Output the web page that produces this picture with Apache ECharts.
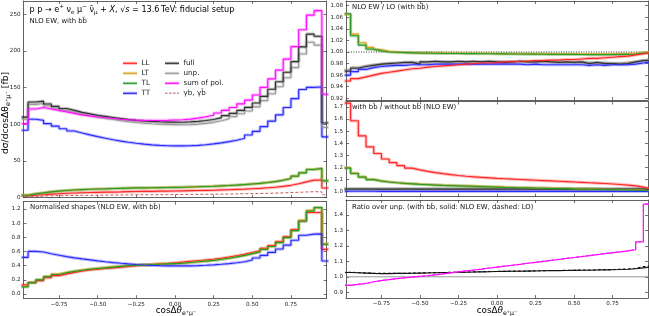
<!DOCTYPE html>
<html><head><meta charset="utf-8">
<script src="https://cdn.jsdelivr.net/npm/echarts@6/dist/echarts.min.js"></script>
<style>html,body{margin:0;padding:0;background:#fff}#c{width:649px;height:316px}</style>
</head><body><div id="c"></div>
<script>
// ---------- data ----------
const binEdges = [-1.0,-0.95,-0.9,-0.85,-0.8,-0.75,-0.7,-0.65,-0.6,-0.55,
  -0.5,-0.45,-0.4,-0.35,-0.3,-0.25,-0.2,-0.15,-0.1,-0.05,
  0.0,0.05,0.1,0.15,0.2,0.25,0.3,0.35,0.4,0.45,
  0.5,0.55,0.6,0.65,0.7,0.75,0.8,0.85,0.9,0.95,1.0];
const xTicks = [-0.75,-0.5,-0.25,0,0.25,0.5,0.75];

// top-left: dsigma/dcos [fb]
const sumPol = [101,121,123,121,119,117,115,113,111.5,110,
  109,108,107,106.3,105.8,105.5,105.3,105.3,105.5,105.9,
  106.3,107.2,108.5,110.3,112.5,115.5,119,123,128,133,
  140,150.5,162,174,189,206,229,249,255,141];
const unpAbs = [106.9,127.2,128.5,125,121.9,119.1,116.4,113.8,111.7,109.7,
  108.2,106.6,105,103.6,102.5,101.6,100.9,100.3,99.8,99.6,
  99.4,99.7,100.4,101.4,102.8,105,107.6,110.6,114.4,118.2,
  123.8,132.4,141.7,151.3,163.5,177.3,196,212,208,95.9];
const fullAbs = [109.9,130.5,131.6,127.8,124.5,121.6,119,116.3,114.3,112.3,
  110.9,109.4,107.8,106.5,105.5,104.6,104,103.5,103.1,103,
  102.9,103.3,104,105.2,106.7,109.1,111.9,115,119.1,123.2,
  129.1,138.1,147.9,158.1,171,185.6,205.6,223,220.1,101.9];
const ttAbs = [92,107,105.5,101,97.5,94,91,88.3,85.7,83.2,
  81,79,77.2,75.6,74.2,73,72,71.3,70.8,70.6,
  70.6,70.9,71.4,72.2,73.3,74.7,76.4,78.4,81,85.5,
  90.5,97,104.5,113,123,135,147.5,150.5,151,83];
const llAbs = [2.7,3.3,4.0,4.8,5.4,6.0,6.4,6.8,7.1,7.3,
  7.5,7.7,7.9,8.2,8.4,8.6,8.7,8.9,9.0,9.2,
  9.4,9.6,9.8,10.0,10.2,10.6,10.9,11.3,11.7,12.2,
  12.7,13.5,14.3,15.5,16.9,19.0,21.5,24.0,24.0,13.2];
const tlAbs = [3.3,5.2,6.6,8.0,9.0,9.8,10.5,11.0,11.5,11.8,
  12.1,12.5,12.8,13.1,13.3,13.4,13.6,13.8,13.9,14.1,
  14.3,14.6,14.9,15.3,15.6,16.1,16.6,17.2,17.9,18.7,
  19.5,20.7,22.0,23.8,26.1,29.4,33.8,38.4,40.0,23.0];
const ltAbs = [3.6,5.4,6.7,8.2,9.2,10.0,10.6,11.1,11.5,11.9,
  12.2,12.5,12.9,13.2,13.4,13.5,13.7,13.8,14.0,14.2,
  14.3,14.7,15.0,15.3,15.7,16.1,16.7,17.3,18.0,18.8,
  19.6,20.8,22.1,24.0,26.2,29.5,34.1,38.7,40.0,23.3];
const gbAbs = [1.5,2.0,2.3,2.6,2.8,3.0,3.1,3.2,3.3,3.4,
  3.5,3.6,3.7,3.8,3.9,4.0,4.0,4.1,4.2,4.3,
  4.4,4.5,4.6,4.7,4.8,4.9,5.0,5.2,5.4,5.6,
  5.8,6.0,6.3,6.6,7.0,7.4,7.8,8.2,8.0,4.0];

// bottom-left: normalised shapes
const llNorm = [0.13,0.16,0.19,0.23,0.26,0.285,0.305,0.325,0.34,0.35,
  0.36,0.37,0.38,0.39,0.40,0.41,0.415,0.425,0.43,0.44,
  0.45,0.46,0.47,0.48,0.49,0.505,0.52,0.54,0.56,0.585,
  0.61,0.645,0.685,0.74,0.81,0.91,1.03,1.15,1.15,0.63];
const tlNorm = [0.10,0.16,0.20,0.245,0.275,0.30,0.32,0.335,0.35,0.36,
  0.37,0.38,0.39,0.40,0.405,0.41,0.415,0.42,0.425,0.43,
  0.435,0.445,0.455,0.465,0.475,0.49,0.505,0.525,0.545,0.57,
  0.595,0.63,0.67,0.725,0.795,0.895,1.03,1.17,1.22,0.70];
const ltNorm = [0.11,0.165,0.205,0.25,0.28,0.305,0.322,0.338,0.352,0.362,
  0.372,0.382,0.392,0.401,0.407,0.412,0.417,0.422,0.427,0.432,
  0.437,0.447,0.457,0.467,0.478,0.492,0.508,0.528,0.548,0.573,
  0.598,0.634,0.674,0.73,0.8,0.9,1.04,1.18,1.22,0.71];
const ttNorm = [0.517,0.601,0.593,0.568,0.548,0.528,0.511,0.496,0.482,0.468,
  0.455,0.444,0.434,0.425,0.417,0.410,0.405,0.401,0.398,0.397,
  0.397,0.398,0.401,0.406,0.412,0.420,0.429,0.441,0.455,0.48,
  0.509,0.545,0.587,0.635,0.691,0.759,0.829,0.846,0.849,0.466];

// top-right: NLO EW / LO
const llNloLo = [0.950,0.954,0.957,0.960,0.963,0.965,0.967,0.969,0.971,0.972,
  0.974,0.975,0.976,0.977,0.978,0.979,0.980,0.981,0.981,0.982,
  0.983,0.983,0.984,0.984,0.985,0.985,0.986,0.986,0.987,0.987,
  0.988,0.989,0.989,0.990,0.991,0.992,0.993,0.995,0.997,0.999];
const tlNloLo = [1.066,1.028,1.012,1.005,1.002,1.000,0.9995,0.999,0.9985,0.998,
  0.998,0.9978,0.9976,0.9975,0.9974,0.9973,0.9972,0.997,0.997,0.9968,
  0.9967,0.9966,0.9965,0.9964,0.9963,0.9962,0.996,0.996,0.9958,0.9958,
  0.9957,0.9956,0.9955,0.9955,0.9955,0.9958,0.996,0.9965,0.998,0.999];
const ltNloLo = [1.065,1.031,1.016,1.008,1.004,1.001,1.0,0.9995,0.999,0.9988,
  0.9986,0.9984,0.9982,0.998,0.9979,0.9978,0.9977,0.9976,0.9975,0.9974,
  0.9973,0.9972,0.9971,0.997,0.9969,0.9968,0.9967,0.9966,0.9965,0.9965,
  0.9964,0.9964,0.9964,0.9965,0.9966,0.9968,0.997,0.9975,0.999,1.0];
const ttNloLo = [0.960,0.966,0.970,0.973,0.975,0.976,0.977,0.977,0.978,0.978,
  0.978,0.979,0.979,0.979,0.979,0.979,0.979,0.979,0.979,0.979,
  0.979,0.979,0.979,0.978,0.979,0.978,0.978,0.978,0.978,0.978,
  0.978,0.977,0.978,0.977,0.978,0.978,0.978,0.979,0.981,0.983];
const fullNloLo = [0.967,0.972,0.975,0.977,0.979,0.980,0.981,0.982,0.982,0.979,
  0.983,0.984,0.983,0.983,0.984,0.983,0.984,0.983,0.984,0.983,
  0.982,0.983,0.984,0.983,0.983,0.984,0.983,0.982,0.983,0.982,
  0.983,0.980,0.982,0.980,0.980,0.979,0.980,0.983,0.985,0.986];
const unpNloLo = [0.969,0.973,0.976,0.978,0.979,0.981,0.980,0.981,0.982,0.982,
  0.981,0.982,0.983,0.982,0.982,0.983,0.982,0.983,0.983,0.982,
  0.983,0.983,0.982,0.983,0.983,0.982,0.983,0.983,0.982,0.983,
  0.982,0.982,0.981,0.982,0.981,0.981,0.982,0.983,0.985,0.987];

// middle-right: with bb / without bb
const llBb = [1.73,1.585,1.46,1.37,1.315,1.27,1.24,1.215,1.195,1.18,
  1.168,1.158,1.149,1.141,1.134,1.128,1.123,1.118,1.114,1.11,
  1.107,1.104,1.101,1.098,1.095,1.092,1.089,1.086,1.083,1.08,
  1.077,1.074,1.071,1.068,1.064,1.06,1.055,1.048,1.038,1.022];
const tlBb = [1.195,1.15,1.12,1.1,1.088,1.08,1.074,1.069,1.065,1.061,
  1.058,1.055,1.052,1.05,1.048,1.046,1.044,1.042,1.04,1.038,
  1.036,1.035,1.033,1.032,1.03,1.029,1.027,1.026,1.025,1.023,
  1.022,1.021,1.02,1.018,1.017,1.016,1.015,1.013,1.011,1.007];
const ltBb = [1.198,1.153,1.123,1.102,1.09,1.082,1.076,1.071,1.067,1.063,
  1.06,1.057,1.054,1.052,1.05,1.048,1.046,1.044,1.042,1.04,
  1.038,1.037,1.035,1.034,1.032,1.031,1.029,1.028,1.027,1.025,
  1.024,1.023,1.022,1.02,1.019,1.018,1.017,1.015,1.013,1.009];
const ttBb = [1.004,1.004,1.004,1.004,1.003,1.003,1.003,1.003,1.003,1.003,
  1.003,1.003,1.003,1.003,1.003,1.003,1.003,1.003,1.003,1.003,
  1.003,1.003,1.003,1.003,1.003,1.003,1.003,1.003,1.003,1.003,
  1.003,1.003,1.003,1.003,1.003,1.003,1.003,1.003,1.003,1.003];
const fullBb = [1.021,1.021,1.021,1.021,1.021,1.021,1.021,1.021,1.021,1.021,
  1.021,1.021,1.021,1.021,1.021,1.021,1.021,1.021,1.021,1.021,
  1.021,1.021,1.021,1.021,1.021,1.021,1.021,1.021,1.021,1.021,
  1.021,1.021,1.021,1.021,1.021,1.021,1.021,1.021,1.021,1.021];
const unpBb = [1.026,1.026,1.026,1.026,1.026,1.026,1.026,1.026,1.026,1.026,
  1.026,1.026,1.026,1.026,1.026,1.026,1.026,1.026,1.026,1.026,
  1.026,1.026,1.026,1.026,1.026,1.026,1.026,1.026,1.026,1.026,
  1.026,1.026,1.026,1.026,1.026,1.026,1.026,1.026,1.026,1.026];

// bottom-right: ratio over unp.
const sumOverUnp = [0.945,0.951,0.957,0.968,0.976,0.982,0.988,0.993,0.998,1.003,
  1.007,1.013,1.019,1.026,1.032,1.038,1.044,1.050,1.057,1.063,
  1.069,1.075,1.081,1.088,1.094,1.100,1.106,1.112,1.119,1.125,
  1.131,1.137,1.143,1.150,1.156,1.162,1.168,1.175,1.226,1.47];
const sumOverUnpLO = [0.946,0.952,0.958,0.968,0.976,0.983,0.988,0.994,0.998,1.003,
  1.008,1.013,1.019,1.026,1.032,1.038,1.044,1.051,1.057,1.063,
  1.069,1.075,1.082,1.088,1.094,1.100,1.106,1.113,1.119,1.125,
  1.131,1.137,1.144,1.150,1.156,1.162,1.169,1.176,1.227,1.47];
const fullOverUnp = [1.028,1.026,1.024,1.022,1.021,1.021,1.022,1.022,1.023,1.024,
  1.025,1.026,1.027,1.028,1.029,1.030,1.031,1.032,1.033,1.034,
  1.035,1.036,1.036,1.037,1.038,1.039,1.040,1.040,1.041,1.042,
  1.043,1.043,1.044,1.045,1.046,1.047,1.049,1.052,1.058,1.063];
const fullOverUnpLO = [1.030,1.027,1.025,1.023,1.022,1.022,1.023,1.023,1.024,1.025,
  1.026,1.027,1.028,1.029,1.030,1.031,1.032,1.033,1.034,1.035,
  1.036,1.037,1.037,1.038,1.039,1.040,1.041,1.041,1.042,1.043,
  1.044,1.044,1.045,1.046,1.047,1.049,1.051,1.055,1.066,1.070];

const aTicks = [0,50,100,150,200,250];
const bTicks = [0.92,0.94,0.96,0.98,1.00,1.02,1.04,1.06,1.08];
const cTicks = [1.0,1.1,1.2,1.3,1.4,1.5,1.6,1.7];
const dTicks = [0.0,0.2,0.4,0.6,0.8,1.0,1.2];
const eTicks = [0.9,1.0,1.1,1.2,1.3,1.4];

const legendLeft = ['LL','LT','TL','TT'];
const legendRight = ['full','unp.','sum of pol.','\u03b3b, \u03b3b\u0304'];

// ---------- chart ----------
const FONT = 'DejaVu Sans';
const C = {LL:'#ff2626', LT:'#d9a21f', TL:'#2a9a2a', TT:'#2b2bff', full:'#333333', unp:'#9a9a9a', sum:'#ff10ff', gb:'#c25a5a'};
const XMIN = -0.98, XMAX = 0.98;
const grids = [
  {left:23.5, top:1, width:303, height:196.7},
  {left:23.5, top:201.7, width:303, height:96.5},
  {left:346, top:1, width:302, height:99},
  {left:346, top:101.5, width:302, height:95.2},
  {left:346, top:200, width:302, height:98}
];
const yCfg = [
  {min:0, max:268.2, ticks:aTicks, fmt:v=>String(v)},
  {min:-0.059, max:1.303, ticks:dTicks, fmt:v=>v.toFixed(1)},
  {min:0.9171, max:1.0881, ticks:bTicks, fmt:v=>v.toFixed(2)},
  {min:0.959, max:1.744, ticks:cTicks, fmt:v=>v.toFixed(1)},
  {min:0.863, max:1.497, ticks:eTicks, fmt:v=>v.toFixed(1)}
];
const minus = s => s.replace('-', '\u2212');
const axLine = {show:true, onZero:false, lineStyle:{color:'#3a3a3a', width:0.8}};
const xAxis = [], yAxis = [];
grids.forEach((g, i) => {
  const lab = (i === 1 || i === 4);
  xAxis.push({gridIndex:i, type:'value', min:XMIN, max:XMAX, position:'bottom',
    axisLine:axLine, splitLine:{show:false},
    axisTick:{show:true, inside:true, length:3, customValues:xTicks, lineStyle:{color:'#3a3a3a', width:0.7}},
    axisLabel:{show:lab, customValues:xTicks, formatter:v=>minus(v.toFixed(2)), fontSize:5.6, color:'#222', margin:3, fontFamily:FONT}});
  xAxis.push({gridIndex:i, type:'value', min:XMIN, max:XMAX, position:'top',
    axisLine:axLine, splitLine:{show:false},
    axisTick:{show:true, inside:true, length:3, customValues:xTicks, lineStyle:{color:'#3a3a3a', width:0.7}},
    axisLabel:{show:false}});
  const y = yCfg[i];
  yAxis.push({gridIndex:i, type:'value', min:y.min, max:y.max, position:'left',
    axisLine:axLine, splitLine:{show:false},
    axisTick:{show:true, inside:true, length:3, customValues:y.ticks, lineStyle:{color:'#3a3a3a', width:0.7}},
    axisLabel:{show:true, customValues:y.ticks, formatter:y.fmt, fontSize:5.6, color:'#222', margin:3, fontFamily:FONT}});
  yAxis.push({gridIndex:i, type:'value', min:y.min, max:y.max, position:'right',
    axisLine:axLine, splitLine:{show:false},
    axisTick:{show:true, inside:true, length:3, customValues:y.ticks, lineStyle:{color:'#3a3a3a', width:0.7}},
    axisLabel:{show:false}});
});

function stepData(vals) {
  const d = vals.map((v, i) => [binEdges[i], v]);
  d.push([binEdges[vals.length], vals[vals.length - 1]]);
  return d;
}
function S(name, g, vals, color, o) {
  o = o || {};
  return {type:'line', name:name, xAxisIndex:2*g, yAxisIndex:2*g, step:'end', symbol:'none',
    data:stepData(vals), clip:true, silent:true, animation:false, z:o.z || 3,
    lineStyle:{color:color, width:o.w || 1.15, type:o.dash || 'solid', opacity:o.op == null ? 1 : o.op},
    itemStyle:{color:color}};
}
function band(g, vals, color) { return S('band', g, vals, color, {w:3.2, op:0.3, z:2}); }
function withBand(name, g, vals, color, o) { return [band(g, vals, color), S(name, g, vals, color, o)]; }

const series = [].concat(
  // top-left
  withBand('LL', 0, llAbs, C.LL),
  withBand('LT', 0, ltAbs, C.LT),
  withBand('TL', 0, tlAbs, C.TL),
  withBand('TT', 0, ttAbs, C.TT),
  withBand('unp.', 0, unpAbs, C.unp),
  withBand('full', 0, fullAbs, C.full),
  withBand('sum of pol.', 0, sumPol, C.sum),
  [S('gb', 0, gbAbs, C.gb, {dash:[3,2], w:1})],
  // bottom-left
  withBand('LL', 1, llNorm, C.LL),
  withBand('LT', 1, ltNorm, C.LT),
  withBand('TL', 1, tlNorm, C.TL),
  withBand('TT', 1, ttNorm, C.TT),
  // top-right
  [{type:'line', name:'ref', xAxisIndex:4, yAxisIndex:4, symbol:'none', silent:true, animation:false, z:1,
    data:[[XMIN,1],[XMAX,1]], lineStyle:{color:'#222', width:0.9, type:[1,1.5]}}],
  withBand('LT', 2, ltNloLo, C.LT),
  withBand('TL', 2, tlNloLo, C.TL),
  withBand('unp.', 2, unpNloLo, C.unp),
  withBand('full', 2, fullNloLo, C.full),
  withBand('TT', 2, ttNloLo, C.TT),
  withBand('LL', 2, llNloLo, C.LL),
  // middle-right
  withBand('unp.', 3, unpBb, C.unp),
  withBand('full', 3, fullBb, C.full),
  withBand('TT', 3, ttBb, C.TT),
  withBand('LT', 3, ltBb, C.LT),
  withBand('TL', 3, tlBb, C.TL),
  withBand('LL', 3, llBb, C.LL),
  // bottom-right
  [{type:'line', name:'ref', xAxisIndex:8, yAxisIndex:8, symbol:'none', silent:true, animation:false, z:1,
    data:[[XMIN,1],[XMAX,1]], lineStyle:{color:'#8a8a8a', width:0.9}}],
  [S('full', 4, fullOverUnp, '#111', {w:1.1}),
   S('fullLO', 4, fullOverUnpLO, '#111', {w:1.1, dash:[3,2]}),
   S('sum of pol.', 4, sumOverUnp, C.sum, {w:1.2}),
   S('sumLO', 4, sumOverUnpLO, C.sum, {w:1.1, dash:[3,2]})]
);

const tF = (s) => ({fontSize:s, fontFamily:FONT, color:'#111'});
const sup = (s) => ({fontSize:s, fontFamily:FONT, color:'#111', verticalAlign:'top', lineHeight:7});
const sub = (s) => ({fontSize:s, fontFamily:FONT, color:'#111', verticalAlign:'bottom', lineHeight:7});
function T(x, y, text, size) {
  return {type:'text', left:x, top:y, silent:true, style:{text:text, font:size + 'px "' + FONT + '"', fill:'#111'}};
}
// hand-drawn legend (two columns)
const legendColors = [C.LL, C.LT, C.TL, C.TT, C.full, C.unp, C.sum, C.gb];
const legendItems = [];
legendLeft.concat(legendRight).forEach((name, k) => {
  const col = k < 4 ? 0 : 1, row = k % 4;
  const x0 = col ? 165 : 123, y0 = 63.3 + 10 * row, color = legendColors[k];
  const dashed = k === 7;
  if (!dashed) legendItems.push({type:'line', silent:true, z:10, shape:{x1:x0, y1:y0, x2:x0 + 14, y2:y0},
    style:{stroke:color, lineWidth:3.2, opacity:0.3}});
  legendItems.push({type:'line', silent:true, z:11, shape:{x1:x0, y1:y0, x2:x0 + 14, y2:y0},
    style:{stroke:color, lineWidth:dashed ? 1.6 : 1.2, lineDash:dashed ? [2.5, 1.5] : null, opacity:dashed ? 0.7 : 1}});
  legendItems.push({type:'text', x:x0 + 18.5, y:y0, silent:true, z:11,
    style:{text:name, font:'7.2px "' + FONT + '"', fill:'#222', verticalAlign:'middle'}});
});

const graphic = [
  {type:'text', left:29.5, top:3.5, silent:true, style:{
    text:'{t|p p \u2192 e}{s|+}{t| \u03bd}{b|e}{t| \u03bc}{s|\u2212}{t| \u03bd\u0304}{b|\u03bc}{t| + }{i|X}{t|, \u221a}{i|s}{t| = 13.6\u2009TeV: fiducial setup}',
    rich:{t:Object.assign(tF(8.1),{lineHeight:12}), i:Object.assign(tF(8.1),{fontStyle:'italic', lineHeight:12}), s:sup(5.6), b:sub(5.6)}}},
  T(29.5, 18, 'NLO EW, with bb\u0304', 6.9),
  T(30, 204, 'Normalised shapes (NLO EW, with bb\u0304)', 6.9),
  T(352, 4, 'NLO EW / LO (with bb\u0304)', 6.9),
  T(352, 104, 'with bb\u0304 / without bb\u0304 (NLO EW)', 6.9),
  T(352, 204, 'Ratio over unp. (with bb\u0304, solid: NLO EW, dashed: LO)', 6.9),
  {type:'text', x:6, y:113, rotation:Math.PI/2, silent:true, style:{
    text:'{t|d\u03c3/dcos\u0394\u03b8}{b|e\u207a\u03bc\u207b}{t| [fb]}', align:'center', verticalAlign:'middle',
    rich:{t:Object.assign(tF(9.2),{lineHeight:12}), b:sub(6.5)}}},
  {type:'text', x:176, y:310.5, silent:true, style:{
    text:'{t|cos\u0394}{i|\u03b8}{b|e\u207a\u03bc\u207b}', align:'center', verticalAlign:'middle',
    rich:{t:Object.assign(tF(8.8),{lineHeight:12}), i:Object.assign(tF(8.8),{fontStyle:'italic', lineHeight:12}), b:sub(6.2)}}},
  {type:'text', x:497, y:310.5, silent:true, style:{
    text:'{t|cos\u0394}{i|\u03b8}{b|e\u207a\u03bc\u207b}', align:'center', verticalAlign:'middle',
    rich:{t:Object.assign(tF(8.8),{lineHeight:12}), i:Object.assign(tF(8.8),{fontStyle:'italic', lineHeight:12}), b:sub(6.2)}}}
].concat(legendItems);

const chart = echarts.init(document.getElementById('c'), null, {renderer:'canvas'});
chart.setOption({animation:false, backgroundColor:'#fff', grid:grids, xAxis:xAxis, yAxis:yAxis, series:series, graphic:graphic, tooltip:{show:false}});
</script></body></html>
